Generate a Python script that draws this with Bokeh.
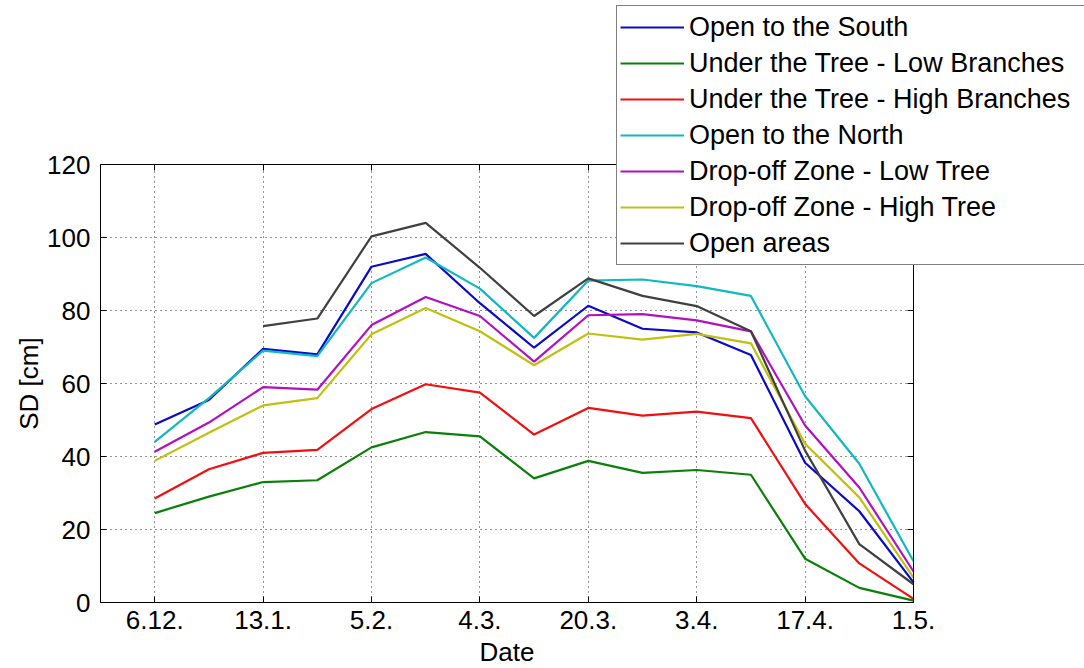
import math
from bokeh.plotting import figure
from bokeh.models import FixedTicker, LinearAxis, Legend, LegendItem, Range1d, Grid, Label
from bokeh.embed import file_html
from bokeh.resources import INLINE

nan = float("nan")

# x positions (measurement index) and date tick labels
x_index = list(range(15))
tick_positions = [0, 2, 4, 6, 8, 10, 12, 14]
date_labels = ["6.12.", "13.1.", "5.2.", "4.3.", "20.3.", "3.4.", "17.4.", "1.5."]
y_ticks = [0, 20, 40, 60, 80, 100, 120]

# snow depth series [cm]
open_south = [48.8, 55.5, 69.5, 68.0, 92.0, 95.5, 82.0, 69.8, 81.3, 75.0, 74.0, 67.8, 38.3, 25.0, 5.5]
tree_low_branches = [24.5, 29.0, 33.0, 33.5, 42.5, 46.7, 45.5, 34.0, 38.8, 35.5, 36.3, 35.0, 12.0, 4.0, 0.5]
tree_high_branches = [28.5, 36.5, 41.0, 41.8, 53.0, 59.8, 57.5, 46.0, 53.3, 51.2, 52.3, 50.5, 27.0, 10.7, 1.0]
open_north = [44.0, 56.0, 69.0, 67.5, 87.5, 94.5, 86.0, 72.5, 88.2, 88.5, 86.7, 84.0, 56.5, 38.0, 11.3]
dropoff_low_tree = [41.3, 49.3, 59.0, 58.3, 76.0, 83.7, 78.5, 66.0, 78.7, 79.0, 77.3, 74.3, 48.5, 31.5, 8.5]
dropoff_high_tree = [38.8, 46.5, 54.0, 56.0, 73.5, 80.7, 74.3, 65.0, 73.7, 72.0, 73.6, 71.0, 43.5, 28.8, 6.8]
open_areas = [nan, nan, 75.7, 77.8, 100.3, 104.0, 91.7, 78.5, 88.8, 84.0, 81.2, 74.3, 41.6, 16.0, 5.0]

series_names = ["Open to the South", "Under the Tree - Low Branches", "Under the Tree - High Branches",
                "Open to the North", "Drop-off Zone - Low Tree", "Drop-off Zone - High Tree", "Open areas"]
series_values = [open_south, tree_low_branches, tree_high_branches, open_north,
                 dropoff_low_tree, dropoff_high_tree, open_areas]
series_colors = ["#0a0ac8", "#0a800a", "#f01010", "#10b8c0", "#b010c0", "#c0c010", "#404040"]

X0, X1 = -1, 14      # visible axes box in data units
Y0, Y1 = 0, 120
FONT = "Liberation Sans"

# The frame covers the whole canvas; the axes box (x -1..14, y 0..120) occupies
# pixels 100..913 horizontally and 164..602 vertically.
W, H = 1084, 668
BOX_L, BOX_R, BOX_T, BOX_B = 100, 913, 164, 602
px_per_x = (BOX_R - BOX_L) / (X1 - X0)
px_per_y = (BOX_B - BOX_T) / (Y1 - Y0)
x_start = X0 - BOX_L / px_per_x
x_end = X1 + (W - BOX_R) / px_per_x
y_start = Y0 - (H - BOX_B) / px_per_y
y_end = Y1 + BOX_T / px_per_y

p = figure(width=W, height=H, output_backend="svg", toolbar_location=None,
           x_range=Range1d(x_start, x_end), y_range=Range1d(y_start, y_end),
           min_border_left=0, min_border_right=0, min_border_top=0, min_border_bottom=0)
p.background_fill_color = "white"
p.border_fill_color = "white"
p.outline_line_color = None

xt = FixedTicker(ticks=tick_positions)
yt = FixedTicker(ticks=y_ticks)
p.xaxis.ticker = xt
p.yaxis.ticker = yt
p.xaxis.bounds = (X0, X1)
p.yaxis.bounds = (Y0, Y1)
p.xaxis.fixed_location = Y0
p.yaxis.fixed_location = X0
p.xaxis.major_label_overrides = {t: l for t, l in zip(tick_positions, date_labels)}
for ax in (p.xaxis[0], p.yaxis[0]):
    ax.major_tick_in = 6
    ax.major_tick_out = 0
    ax.minor_tick_in = 0
    ax.minor_tick_out = 0
    ax.axis_line_color = "black"
    ax.major_tick_line_color = "black"
    ax.major_label_text_font = FONT
    ax.major_label_text_font_size = "26px"
    ax.major_label_text_color = "black"
p.xaxis.major_label_standoff = 8
p.yaxis.major_label_standoff = 10

# mirrored box sides with inward ticks (top at y=120, right at x=14)
right_ax = LinearAxis(ticker=yt, fixed_location=X1, bounds=(Y0, Y1))
top_ax = LinearAxis(ticker=xt, fixed_location=Y1, bounds=(X0, X1))
for ax in (right_ax, top_ax):
    ax.major_tick_in = 6
    ax.major_tick_out = 0
    ax.minor_tick_in = 0
    ax.minor_tick_out = 0
    ax.major_label_text_font_size = "0px"
    ax.major_label_text_color = None
    ax.major_label_standoff = 0
    ax.axis_line_color = "black"
    ax.major_tick_line_color = "black"
p.add_layout(right_ax, "right")
p.add_layout(top_ax, "above")

# dotted grid limited to the axes box
p.xgrid.ticker = xt
p.ygrid.ticker = yt
has_cross = "cross_bounds" in Grid.properties()
for g, b, cb in ((p.xgrid[0], (X0, X1), (Y0, Y1)), (p.ygrid[0], (Y0, Y1), (X0, X1))):
    g.grid_line_color = "black"
    g.grid_line_dash = "1 4"
    g.grid_line_width = 1
    g.grid_line_alpha = 0.85
    g.bounds = b
    if has_cross:
        g.cross_bounds = cb
if not has_cross:
    p.xgrid.visible = False
    p.ygrid.visible = False
    p.segment(x0=tick_positions, y0=[Y0] * len(tick_positions), x1=tick_positions,
              y1=[Y1] * len(tick_positions), line_color="black", line_dash="1 4", line_alpha=0.85)
    p.segment(x0=[X0] * len(y_ticks), y0=y_ticks, x1=[X1] * len(y_ticks), y1=y_ticks,
              line_color="black", line_dash="1 4", line_alpha=0.85)

# data lines
items = []
for name, vals, col in zip(series_names, series_values, series_colors):
    r = p.line(x_index, vals, line_color=col, line_width=2.2)
    items.append(LegendItem(label=name, renderers=[r]))

legend = Legend(items=items, location=(616, H - 265))
legend.label_text_font = FONT
legend.label_text_font_size = "27px"
legend.label_text_color = "black"
legend.glyph_width = 64
legend.glyph_height = 36
legend.label_height = 36
legend.label_width = 392
legend.label_standoff = 5
legend.spacing = 0
legend.padding = 3
legend.margin = 0
legend.border_line_color = "black"
legend.border_line_width = 1
legend.background_fill_color = "white"
legend.background_fill_alpha = 1.0
p.add_layout(legend, "center")

# axis titles (screen units from the canvas' bottom-left corner)
p.add_layout(Label(x=(BOX_L + BOX_R) / 2, y=H - 651, x_units="screen", y_units="screen",
                   text="Date", text_font=FONT, text_font_size="26px",
                   text_align="center", text_baseline="middle", text_color="black"))
p.add_layout(Label(x=28, y=H - (BOX_T + BOX_B) / 2, x_units="screen", y_units="screen",
                   text="SD [cm]", angle=math.pi / 2, text_font=FONT, text_font_size="26px",
                   text_align="center", text_baseline="middle", text_color="black"))

open("out.html", "w").write(file_html(p, INLINE))
